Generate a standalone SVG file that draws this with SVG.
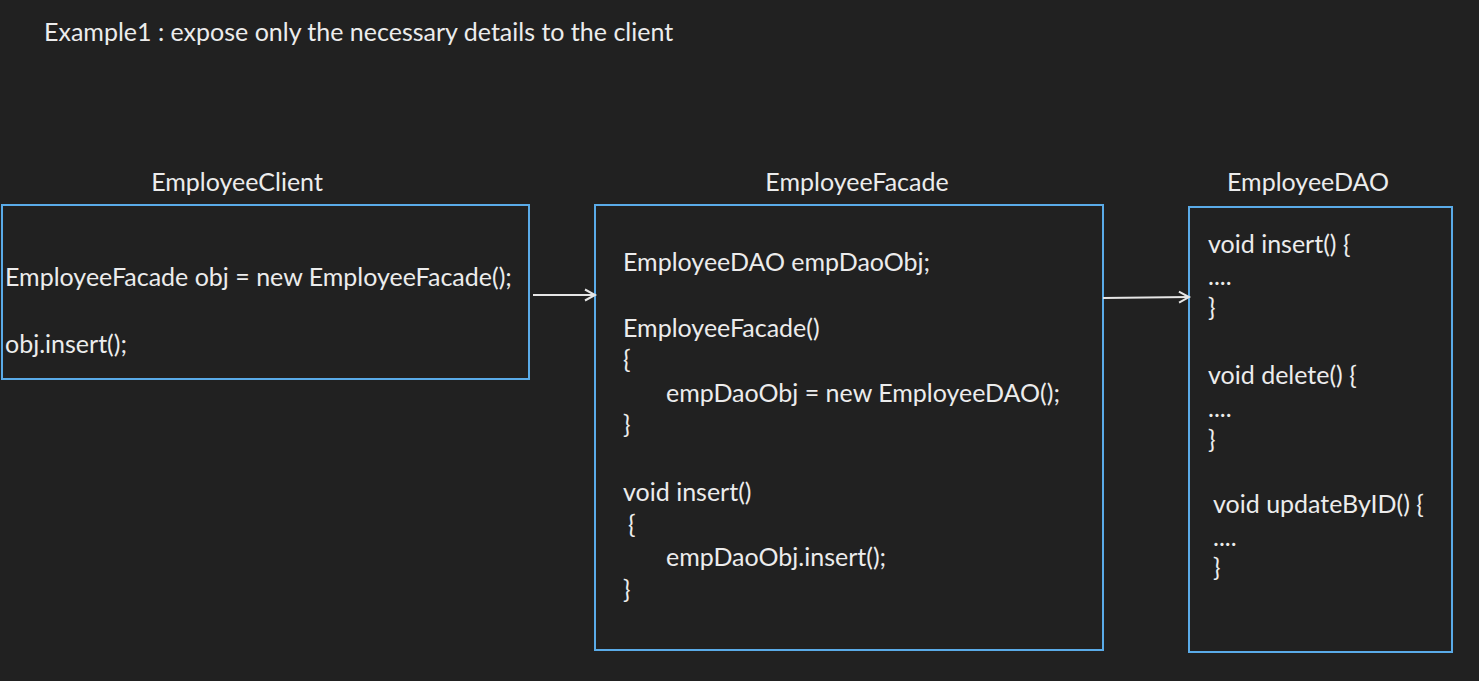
<svg xmlns="http://www.w3.org/2000/svg" width="1479" height="681" viewBox="0 0 1479 681">
<defs>
<style>
.t{font-family:Lato,"Open Sans","Liberation Sans",sans-serif;font-size:25px;fill:#ececec}
.box{fill:none;stroke:#5aabe8;stroke-width:2}
.con{stroke:#e6e6e6;stroke-width:2;fill:none}
</style>
<marker id="arr" markerWidth="14" markerHeight="14" refX="11" refY="7" orient="auto" markerUnits="userSpaceOnUse">
<path d="M1,1.5 L11,7 L1,12.5" fill="none" stroke="#e6e6e6" stroke-width="2"/>
</marker>
</defs>
<rect width="1479" height="681" fill="#212121"/>
<text class="t" x="44" y="41">Example1 : expose only the necessary details to the client</text>
<g id="client">
<text class="t" x="237" y="191" text-anchor="middle">EmployeeClient</text>
<rect class="box" x="2" y="205" width="527" height="174"/>
<text class="t" x="5" y="286">EmployeeFacade obj = new EmployeeFacade();</text>
<text class="t" x="5" y="353">obj.insert();</text>
</g>
<g id="facade">
<text class="t" x="857" y="191" text-anchor="middle">EmployeeFacade</text>
<rect class="box" x="595" y="205" width="508" height="445"/>
<text class="t" x="623" y="271">EmployeeDAO empDaoObj;</text>
<text class="t" x="623" y="337">EmployeeFacade()</text>
<text class="t" x="623" y="368">{</text>
<text class="t" x="666" y="402">empDaoObj = new EmployeeDAO();</text>
<text class="t" x="623" y="433">}</text>
<text class="t" x="623" y="501">void insert()</text>
<text class="t" x="628" y="533">{</text>
<text class="t" x="666" y="566">empDaoObj.insert();</text>
<text class="t" x="623" y="598">}</text>
</g>
<g id="dao">
<text class="t" x="1308" y="191" text-anchor="middle">EmployeeDAO</text>
<rect class="box" x="1189" y="207" width="263" height="445"/>
<text class="t" x="1208" y="253">void insert() {</text>
<text class="t" x="1208" y="285">....</text>
<text class="t" x="1208" y="316">}</text>
<text class="t" x="1208" y="384">void delete() {</text>
<text class="t" x="1208" y="417">....</text>
<text class="t" x="1208" y="448">}</text>
<text class="t" x="1213" y="513">void updateByID() {</text>
<text class="t" x="1213" y="546">....</text>
<text class="t" x="1213" y="576">}</text>
</g>
<g id="connectors">
<line class="con" x1="533" y1="295" x2="595" y2="295" marker-end="url(#arr)"/>
<line class="con" x1="1103" y1="298" x2="1189" y2="297" marker-end="url(#arr)"/>
</g>
</svg>
